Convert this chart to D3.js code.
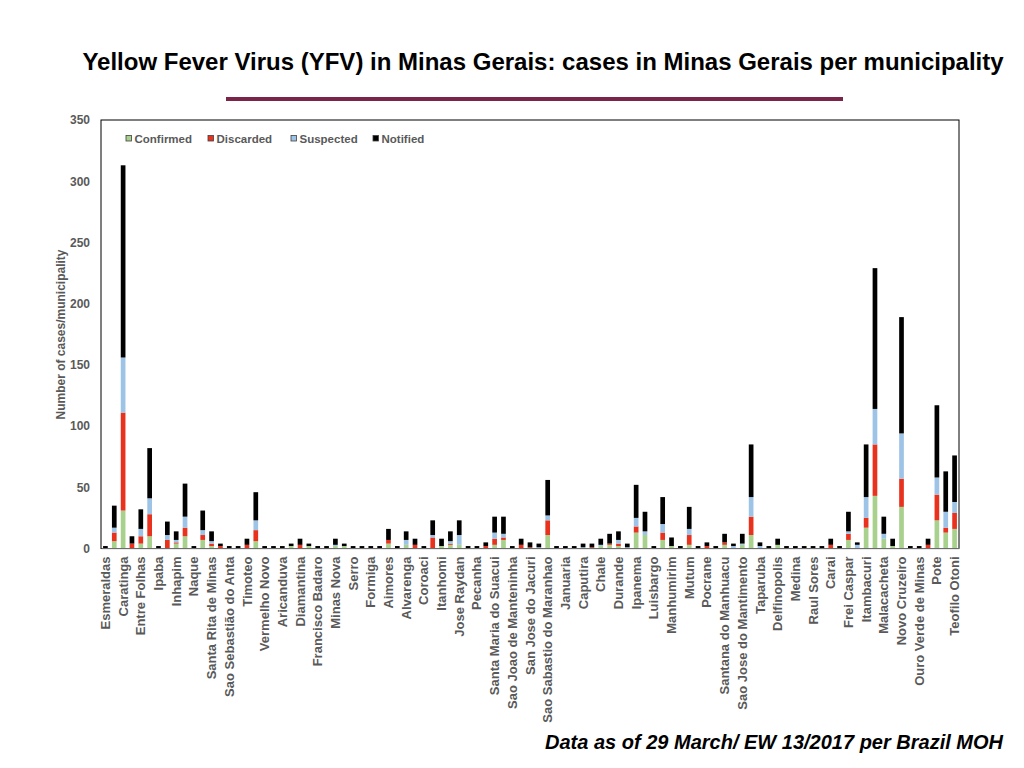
<!DOCTYPE html>
<html>
<head>
<meta charset="utf-8">
<script src="https://cdn.jsdelivr.net/npm/d3@7/dist/d3.min.js"></script>
<style>
  body { margin: 0; background: #fff; }
  svg { display: block; font-family: "Liberation Sans", Arial, sans-serif; }
</style>
</head>
<body>
<script>
// Municipality names, shown on every other bar (the chart only labels even bars)
var municipalities = ["Esmeraldas", "Caratinga", "Entre Folhas", "Ipaba", "Inhapim", "Naque",
  "Santa Rita de Minas", "Sao Sebastião do Anta", "Timoteo", "Vermelho Novo", "Aricanduva",
  "Diamantina", "Francisco Badaro", "Minas Nova", "Serro", "Formiga", "Aimores", "Alvarenga",
  "Coroaci", "Itanhomi", "Jose Raydan", "Pecanha", "Santa Maria do Suacui",
  "Sao Joao de Manteninha", "San Jose do Jacuri", "Sao Sabastio do Maranhao", "Januaria",
  "Caputira", "Chale", "Durande", "Ipanema", "Luisbargo", "Manhumirim", "Mutum", "Pocrane",
  "Santana do Manhuacu", "Sao Jose do Mantimento", "Taparuba", "Delfinopolis", "Medina",
  "Raul Sores", "Carai", "Frei Caspar", "Itambacuri", "Malacacheta", "Novo Cruzeiro",
  "Ouro Verde de Minas", "Pote", "Teofilo Otoni"];

// Series values, one per bar (97 bars)
var confirmed = [0,6,31,0,4,10,0,0,4,10, 0,7,2,0,0,0,0,6,0,0, 0,2,0,2,0,0,2,2,0,0,
  0,0,4,0,3,0,0,0,2,3, 3,0,0,0,3,7,0,0,0,0, 11,0,0,0,0,0,2,3,2,0, 13,11,0,7,2,0,3,0,0,0,
  3,0,3,11,0,0,3,0,0,0, 0,0,0,0,7,0,17,43,8,2, 34,0,0,0,23,13,16];
var discarded = [0,7,80,4,6,18,0,7,1,7, 0,4,2,2,0,0,3,9,0,0, 0,0,3,0,0,0,0,0,0,0,
  0,0,3,0,0,3,0,9,0,1, 0,0,0,2,5,2,0,3,1,0, 12,0,0,0,0,1,0,1,2,0, 5,0,0,6,0,0,8,0,2,0,
  2,0,0,15,0,0,0,0,0,0, 0,0,3,0,5,0,8,42,0,0, 23,0,0,3,21,4,13];
var suspected = [0,4,45,0,6,13,0,4,2,9, 0,4,2,0,0,0,0,8,0,0, 0,0,0,0,0,0,1,0,0,0,
  0,0,0,0,4,0,0,2,0,2, 8,0,0,0,5,3,0,0,0,1, 4,0,0,0,1,0,1,0,3,1, 7,3,0,7,0,0,5,0,0,0,
  0,2,1,16,2,0,0,0,0,0, 0,0,0,0,2,3,17,29,4,0, 37,0,0,0,14,13,9];
var notified = [2,18,157,6,16,41,2,11,7,27, 2,16,8,2,2,2,5,23,2,2, 2,2,5,2,2,2,5,2,2,2,
  2,2,9,2,7,5,2,12,6,8, 12,2,2,3,13,14,2,5,4,3, 29,2,2,2,3,3,5,8,7,3, 27,16,2,22,7,2,18,2,3,2,
  7,2,8,43,3,2,5,2,2,2, 2,2,5,2,16,2,43,115,14,6, 95,2,2,5,59,33,38];

var series_names = ["Confirmed", "Discarded", "Suspected", "Notified"];
var series_colors = ["#a9d18e", "#e8321e", "#9dc3e6", "#000000"];
var y_ticks = [0, 50, 100, 150, 200, 250, 300, 350];

var width = 1024;
var height = 768;
var margin = { left: 101, right: 65, top: 120, bottom: 219.5 };
var plot_w = width - margin.left - margin.right;
var plot_h = height - margin.top - margin.bottom;

// Build the table d3.stack wants
var table = confirmed.map(function (d, i) {
  return { idx: i, Confirmed: d, Discarded: discarded[i], Suspected: suspected[i], Notified: notified[i] };
});

var svg = d3.select("body").append("svg")
  .attr("width", width)
  .attr("height", height);

// Title and decoration
svg.append("text")
  .attr("x", 543)
  .attr("y", 70)
  .attr("text-anchor", "middle")
  .style("font-size", "24px")
  .style("font-weight", "bold")
  .style("fill", "#000")
  .text("Yellow Fever Virus (YFV) in Minas Gerais: cases in Minas Gerais per municipality");

svg.append("line")
  .attr("x1", 226).attr("x2", 843)
  .attr("y1", 99).attr("y2", 99)
  .attr("stroke", "#7b2449")
  .attr("stroke-width", 4);

var g = svg.append("g")
  .attr("transform", "translate(" + margin.left + "," + margin.top + ")");

var x = d3.scaleBand()
  .domain(d3.range(confirmed.length))
  .range([0, plot_w])
  .paddingInner(0.47)
  .paddingOuter(0.235);

var y = d3.scaleLinear()
  .domain([0, 350])
  .range([plot_h, 0]);

var stack = d3.stack().keys(series_names);
var layers = stack(table);

g.selectAll("g.layer")
  .data(layers)
  .enter()
  .append("g")
  .attr("class", "layer")
  .attr("fill", function (d, i) { return series_colors[i]; })
  .selectAll("rect")
  .data(function (d) { return d.filter(function (s) { return s[1] > s[0]; }); })
  .enter()
  .append("rect")
  .attr("x", function (d) { return x(d.data.idx); })
  .attr("width", x.bandwidth())
  .attr("y", function (d) { return y(d[1]); })
  .attr("height", function (d) { return y(d[0]) - y(d[1]); });

// Plot frame
g.append("rect")
  .attr("width", plot_w)
  .attr("height", plot_h)
  .attr("fill", "none")
  .attr("stroke", "#000")
  .attr("stroke-width", 1);

// Y axis
var y_axis = g.append("g")
  .call(d3.axisLeft(y).tickValues(y_ticks).tickSize(0).tickPadding(11));
y_axis.select(".domain").remove();
y_axis.selectAll("text")
  .style("font-size", "12px")
  .style("font-weight", "bold")
  .style("fill", "#595959")
  .style("font-family", "'Liberation Sans', Arial, sans-serif");

// X axis: label only even bars
var x_axis = g.append("g")
  .attr("transform", "translate(0," + plot_h + ")")
  .call(d3.axisBottom(x).tickSize(0).tickFormat(function (i) {
    return i % 2 === 0 ? municipalities[i / 2] : "";
  }));
x_axis.select(".domain").attr("stroke", "#d9d9d9");
x_axis.selectAll("text")
  .attr("transform", "rotate(-90)")
  .attr("x", -8)
  .attr("y", 0)
  .attr("dy", "0.35em")
  .attr("text-anchor", "end")
  .style("font-size", "13px")
  .style("font-weight", "bold")
  .style("fill", "#595959")
  .style("font-family", "'Liberation Sans', Arial, sans-serif");

// Y axis title
svg.append("text")
  .attr("transform", "translate(65,334.5) rotate(-90)")
  .attr("text-anchor", "middle")
  .style("font-size", "12px")
  .style("font-weight", "bold")
  .style("fill", "#595959")
  .text("Number of cases/municipality");

// Legend
var legend_x = [126, 208, 291, 373];
var legend = g.append("g")
  .selectAll("g")
  .data(series_names)
  .enter()
  .append("g")
  .attr("transform", function (d, i) {
    return "translate(" + (legend_x[i] - margin.left) + "," + (135.5 - margin.top) + ")";
  });
legend.append("rect")
  .attr("width", 5.5)
  .attr("height", 5.5)
  .attr("fill", function (d, i) { return series_colors[i]; })
  .attr("stroke", "#404040")
  .attr("stroke-width", 0.8);
legend.append("text")
  .attr("x", 8.5)
  .attr("y", 7)
  .style("font-size", "11.5px")
  .style("font-weight", "bold")
  .style("fill", "#595959")
  .text(function (d) { return d; });

// Footer
svg.append("text")
  .attr("x", 1003)
  .attr("y", 749)
  .attr("text-anchor", "end")
  .style("font-size", "20px")
  .style("font-weight", "bold")
  .style("font-style", "italic")
  .style("fill", "#000")
  .text("Data as of 29 March/ EW 13/2017 per Brazil MOH");
</script>
</body>
</html>
